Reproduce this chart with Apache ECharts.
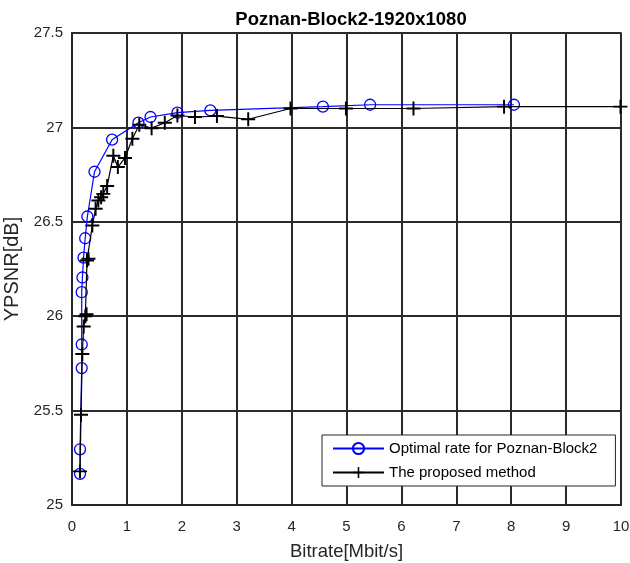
<!DOCTYPE html>
<html>
<head>
<meta charset="utf-8">
<script src="https://cdn.jsdelivr.net/npm/echarts@6/dist/echarts.min.js"></script>
<style>html,body{margin:0;padding:0;background:#fff}#c{width:630px;height:563px}</style>
</head>
<body>
<div id="c"></div>
<script>
var chartTitle = 'Poznan-Block2-1920x1080';
var seriesNames = ['Optimal rate for Poznan-Block2', 'The proposed method'];
var optimalRate = [0.146, 0.146, 0.177, 0.177, 0.177, 0.19, 0.21, 0.24, 0.28, 0.41, 0.73, 1.21, 1.43, 1.92, 2.52, 4.57, 5.43, 8.05];
var optimalPSNR = [25.165, 25.295, 25.725, 25.85, 26.127, 26.205, 26.31, 26.413, 26.528, 26.765, 26.935, 27.025, 27.055, 27.078, 27.09, 27.11, 27.12, 27.12];
var proposedRate = [0.146, 0.164, 0.188, 0.213, 0.243, 0.265, 0.273, 0.30, 0.37, 0.43, 0.48, 0.53, 0.57, 0.64, 0.753, 0.835, 0.965, 1.10, 1.226, 1.45, 1.69, 1.92, 2.24, 2.64, 3.21, 3.98, 4.99, 6.22, 7.87, 9.99];
var proposedPSNR = [25.178, 25.478, 25.80, 25.945, 26.0, 26.01, 26.295, 26.304, 26.48, 26.569, 26.613, 26.63, 26.648, 26.69, 26.85, 26.79, 26.838, 26.94, 27.014, 26.996, 27.025, 27.063, 27.055, 27.06, 27.043, 27.10, 27.10, 27.10, 27.11, 27.11];
var xMin = 0, xMax = 10, xStep = 1;
var yMin = 25, yMax = 27.5, yStep = 0.5;

function pairs(xs, ys) { return xs.map(function (x, i) { return [x, ys[i]]; }); }
var plusPath = 'path://M-1.4,-10 L1.4,-10 L1.4,-1.4 L10,-1.4 L10,1.4 L1.4,1.4 L1.4,10 L-1.4,10 L-1.4,1.4 L-10,1.4 L-10,-1.4 L-1.4,-1.4 Z';
var fontFam = '"Liberation Sans", Arial, Helvetica, sans-serif';
var txt = '#262626';

var chart = echarts.init(document.getElementById('c'), null, { renderer: 'canvas' });
chart.setOption({
  backgroundColor: '#fff',
  animation: false,
  title: {
    text: chartTitle, left: 346, top: 5, textAlign: 'center',
    textStyle: { fontFamily: fontFam, fontSize: 18.5, fontWeight: 'bold', color: '#000' }
  },
  grid: {
    left: 72, right: 9, top: 33, bottom: 58, containLabel: false, outerBoundsMode: 'none',
    show: true, borderColor: '#262626', borderWidth: 1.5, backgroundColor: 'transparent'
  },
  legend: {
    orient: 'vertical', left: 322, top: 435,
    backgroundColor: '#fff', borderColor: '#262626', borderWidth: 1,
    padding: [6, 18, 6, 10], itemGap: 9, itemWidth: 51, itemHeight: 14,
    textStyle: { fontFamily: fontFam, fontSize: 15, color: '#000' },
    data: seriesNames
  },
  xAxis: {
    type: 'value', min: xMin, max: xMax, interval: xStep,
    name: 'Bitrate[Mbit/s]', nameLocation: 'middle', nameGap: 37,
    nameTextStyle: { fontFamily: fontFam, fontSize: 18.5, color: txt },
    axisLine: { show: true, onZero: false, lineStyle: { color: '#262626', width: 2 } },
    axisTick: { show: false },
    axisLabel: { margin: 14, fontFamily: fontFam, fontSize: 15, color: txt },
    splitLine: { show: true, lineStyle: { color: '#2b2b2b', width: 2 } }
  },
  yAxis: {
    type: 'value', min: yMin, max: yMax, interval: yStep,
    name: 'YPSNR[dB]', nameLocation: 'middle', nameGap: 44, nameRotate: 90,
    nameTextStyle: { fontFamily: fontFam, fontSize: 20, color: txt },
    axisLine: { show: true, lineStyle: { color: '#262626', width: 2 } },
    axisTick: { show: false },
    axisLabel: { margin: 9, fontFamily: fontFam, fontSize: 15, color: txt },
    splitLine: { show: true, lineStyle: { color: '#2b2b2b', width: 2 } }
  },
  series: [
    {
      name: seriesNames[0], type: 'line', data: pairs(optimalRate, optimalPSNR),
      symbol: 'circle', symbolSize: 11, showAllSymbol: true,
      lineStyle: { color: '#0000ff', width: 1.2 },
      itemStyle: { color: 'rgba(0,0,0,0)', borderColor: '#0000ff', borderWidth: 1.3 },
      z: 3
    },
    {
      name: seriesNames[1], type: 'line', data: pairs(proposedRate, proposedPSNR),
      symbol: plusPath, symbolSize: 14, showAllSymbol: true,
      lineStyle: { color: '#000', width: 1.2 },
      itemStyle: { color: '#000', borderWidth: 0 },
      z: 4
    }
  ]
});
</script>
</body>
</html>
